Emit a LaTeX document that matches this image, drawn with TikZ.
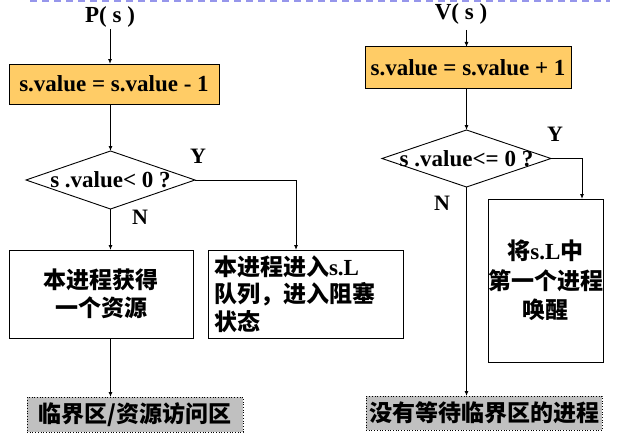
\documentclass[tikz,border=0pt]{standalone}
\usepackage{fontspec}
\setmainfont{Liberation Serif}
\newfontfamily\cjk{Noto Sans CJK SC}[BoldFont={Noto Sans CJK SC Black}]
\usetikzlibrary{shapes.geometric,arrows.meta}
\definecolor{orangefill}{HTML}{FFCC66}
\definecolor{grayfill}{HTML}{C0C0C0}
\definecolor{topline}{RGB}{150,150,235}
\begin{document}
\begin{tikzpicture}[x=1pt,y=-1pt,
  every node/.style={font=\bfseries\fontsize{23}{28}\selectfont, inner sep=0pt, outer sep=0pt},
  opbox/.style={draw, line width=1pt, fill=orangefill},
  plainbox/.style={draw, line width=1pt},
  endbox/.style={draw, dotted, line width=0.7pt, fill=grayfill},
  decide/.style={draw, diamond, line width=0.9pt, aspect=2.9},
  lbl/.style={font=\bfseries\fontsize{22}{26}\selectfont},
  arr/.style={line width=0.9pt, -{Latex[length=5pt,width=4pt]}},
  conn/.style={line width=0.9pt}
]
\useasboundingbox (0,0) rectangle (636,436);
\draw[topline, line width=1.8pt, dash pattern=on 7pt off 5pt] (30,1) -- (610,1);

% ---------- P(s) ----------
\node (ptitle) at (110,17) {P( s )};
\coordinate (p0) at (110,29);
\node[opbox, minimum width=210pt, minimum height=40pt] (pbox) at (114,84) {s.value = s.value - 1};
\node[decide, minimum width=169pt, minimum height=58pt] (pdia) at (110.5,180) {};
\node (pdiatext) at (pdia.center) {s .value< 0 ?};
\node[lbl] (py) at (198,156) {Y};
\node[lbl] (pn) at (140,217) {N};
\node[plainbox, minimum width=184pt, minimum height=88pt, align=center] (pbl) at (101,294) {{\cjk 本进程获得}\\{\cjk 一个资源}};
\node[plainbox, minimum width=195pt, minimum height=88pt] (pbr) at (305.5,294) {};
\node[anchor=west, align=left, font=\bfseries\fontsize{23}{27.5}\selectfont] (pbrtext) at (214,294) {{\cjk 本进程进入}s.L\\{\cjk 队列，进入阻塞}\\{\cjk 状态}};
\node[endbox, minimum width=216pt, minimum height=35pt] (pend) at (135,414.5) {\cjk 临界区/资源访问区};

\draw[arr] (p0) -- (p0 |- pbox.north);
\draw[arr] (pbox.south -| pdia.north) -- (pdia.north);
\draw[arr] (pdia.east) -| ([xshift=-9.5pt]pbr.north);
\draw[arr] (pdia.south) -- (pdia.south |- pbl.north);
\draw[arr] (pbl.south -| pdia.south) -- (pdia.south |- pend.north);

% ---------- V(s) ----------
\node (vtitle) at (461,14) {V( s )};
\coordinate (v0) at (466.5,30);
\node[opbox, minimum width=206pt, minimum height=41pt] (vbox) at (468,67.5) {s.value = s.value + 1};
\node[decide, minimum width=169pt, minimum height=57pt] (vdia) at (466.5,158.5) {};
\node (vdiatext) at (vdia.center) {s .value<= 0 ?};
\node[lbl] (vy) at (555,134) {Y};
\node[lbl] (vn) at (442,203) {N};
\node[plainbox, minimum width=115pt, minimum height=163pt, align=center, font=\bfseries\fontsize{23}{29.5}\selectfont] (vbr) at (545.5,280.5) {{\cjk 将}s.L{\cjk 中}\\{\cjk 第一个进程}\\{\cjk 唤醒}};
\node[endbox, minimum width=236pt, minimum height=34pt] (vend) at (484,413) {\cjk 没有等待临界区的进程};

\draw[arr] (v0) -- (v0 |- vbox.north);
\draw[arr] (vbox.south -| vdia.north) -- (vdia.north);
\draw[arr] (vdia.east) -| ([xshift=36.5pt]vbr.north);
\draw[arr] (vdia.south) -- (vdia.south |- vend.north);
\end{tikzpicture}
\end{document}
